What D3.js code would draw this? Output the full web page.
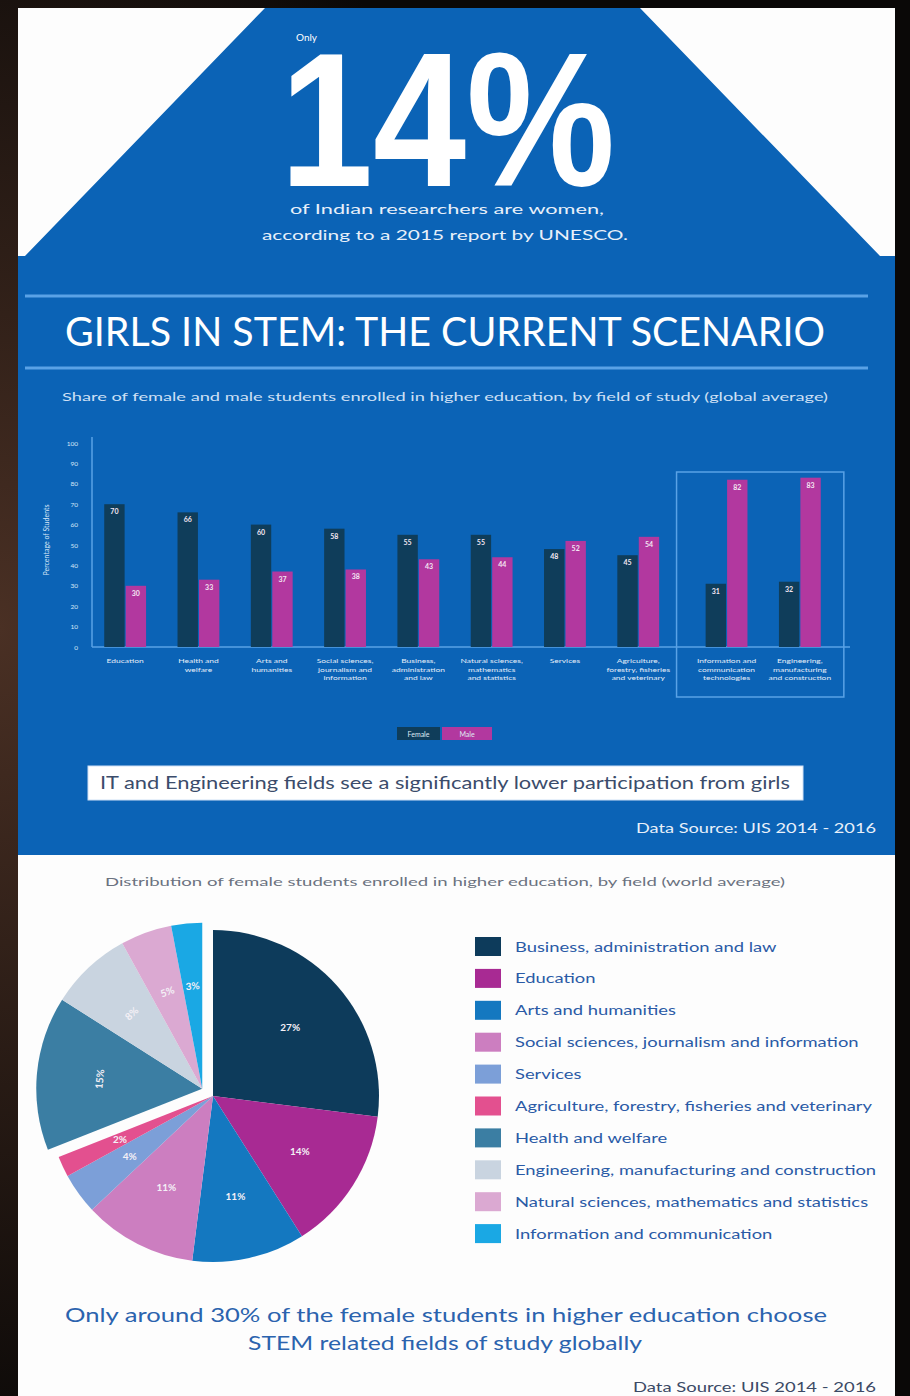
<!DOCTYPE html>
<html>
<head>
<meta charset="utf-8">
<script src="https://d3js.org/d3.v7.min.js"></script>
<style>
  body { margin: 0; background: #0a0807; }
  svg { display: block; font-family: Lato, "Noto Sans", sans-serif; }
</style>
</head>
<body>
<div id="viz"></div>
<script>
// ---- data ----
const fields = ["Education", "Health and welfare", "Arts and humanities",
  "Social sciences, journalism and information", "Business, administration and law",
  "Natural sciences, mathematics and statistics", "Services",
  "Agriculture, forestry, fisheries and veterinary",
  "Information and communication technologies", "Engineering, manufacturing and construction"];
const fieldLines = [["Education"], ["Health and", "welfare"], ["Arts and", "humanities"],
  ["Social sciences,", "journalism and", "information"], ["Business,", "administration", "and law"],
  ["Natural sciences,", "mathematics", "and statistics"], ["Services"],
  ["Agriculture,", "forestry, fisheries", "and veterinary"],
  ["Information and", "communication", "technologies"], ["Engineering,", "manufacturing", "and construction"]];
const femaleShare = [70, 66, 60, 58, 55, 55, 48, 45, 31, 32];
const maleShare = [30, 33, 37, 38, 43, 44, 52, 54, 82, 83];
const highlighted = ["Information and communication technologies", "Engineering, manufacturing and construction"];
const yTicks = [0, 10, 20, 30, 40, 50, 60, 70, 80, 90, 100];

const pieFields = ["Business, administration and law", "Education", "Arts and humanities",
  "Social sciences, journalism and information", "Services",
  "Agriculture, forestry, fisheries and veterinary", "Health and welfare",
  "Engineering, manufacturing and construction", "Natural sciences, mathematics and statistics",
  "Information and communication"];
const pieValues = [27, 14, 11, 11, 4, 2, 15, 8, 5, 3];
const pieColors = ["#0d3b5b", "#a82a93", "#1478c0", "#cc7ec0", "#7c9fd8", "#e3508f",
  "#3b7ea3", "#c9d4e0", "#dba9d2", "#1aa8e4"];
const explodedFields = ["Health and welfare", "Engineering, manufacturing and construction",
  "Natural sciences, mathematics and statistics", "Information and communication"];

const W = 910, H = 1396;
const blue = "#0b63b6";

// the original face is a wide geometric sans: stretch text to its width
function widen(sel, k) {
  sel.each(function() {
    const len = this.getComputedTextLength();
    d3.select(this).attr("textLength", len * k).attr("lengthAdjust", "spacingAndGlyphs");
  });
}

const svg = d3.select("#viz").append("svg")
    .attr("width", W)
    .attr("height", H);

// backdrop (photo edge) + card
const defs = svg.append("defs");
const grad = defs.append("radialGradient").attr("id", "glow")
    .attr("cx", "0").attr("cy", "0.45").attr("r", "0.6");
grad.append("stop").attr("offset", "0").attr("stop-color", "#4a3024");
grad.append("stop").attr("offset", "1").attr("stop-color", "#0a0807");
svg.append("rect").attr("width", W).attr("height", H).attr("fill", "url(#glow)");
svg.append("rect").attr("x", 18).attr("y", 8).attr("width", 877).attr("height", H - 8).attr("fill", "#fdfdfd");

// blue header triangle + band
svg.append("path")
    .attr("d", "M265,8 L640,8 L880,256 L895,256 L895,855 L18,855 L18,256 L25,256 Z")
    .attr("fill", blue);

svg.append("text").attr("x", 296).attr("y", 41)
    .attr("font-size", 10).attr("fill", "#fff").text("Only");
svg.append("text").attr("x", 280).attr("y", 186)
    .attr("font-size", 192).attr("font-weight", 700).attr("fill", "#fff")
    .attr("font-family", "'Liberation Sans', sans-serif")
    .attr("textLength", 335).attr("lengthAdjust", "spacingAndGlyphs")
    .text("14%");
svg.append("text").attr("x", 447).attr("y", 214).attr("text-anchor", "middle")
    .attr("font-size", 14).attr("fill", "#e8f0fa")
    .attr("textLength", 314).attr("lengthAdjust", "spacingAndGlyphs")
    .text("of Indian researchers are women,");
svg.append("text").attr("x", 445).attr("y", 240).attr("text-anchor", "middle")
    .attr("font-size", 14).attr("fill", "#e8f0fa")
    .attr("textLength", 366).attr("lengthAdjust", "spacingAndGlyphs")
    .text("according to a 2015 report by UNESCO.");

// title with rules
[296, 368].forEach(y => {
  svg.append("line").attr("x1", 25).attr("x2", 868).attr("y1", y).attr("y2", y)
      .attr("stroke", "#5aa2e6").attr("stroke-width", 3);
});
svg.append("text").attr("x", 65).attr("y", 346)
    .attr("font-size", 41).attr("fill", "#fff")
    .attr("textLength", 760).attr("lengthAdjust", "spacingAndGlyphs")
    .text("GIRLS IN STEM: THE CURRENT SCENARIO");
svg.append("text").attr("x", 62).attr("y", 401)
    .attr("font-size", 11).attr("fill", "#cfe0f5")
    .attr("textLength", 766).attr("lengthAdjust", "spacingAndGlyphs")
    .text("Share of female and male students enrolled in higher education, by field of study (global average)");

// ---- bar chart ----
const y = d3.scaleLinear().domain([0, 100]).range([647, 443]);
const x0 = d3.scaleBand().domain(fields).range([88.5, 821.5]).paddingInner(0.4).paddingOuter(0.2);
const shift = d => highlighted.includes(d) ? 15 : 0;
const gx = d => x0(d) + shift(d);
const x1 = d3.scaleBand().domain(["Female", "Male"]).range([0, x0.bandwidth()]).padding(0.05);
const barColor = d3.scaleOrdinal().domain(["Female", "Male"]).range(["#0f3d5a", "#b2389f"]);

const axisColor = "#5aa2e6";
const yAxis = svg.append("g")
    .attr("transform", "translate(92,0)")
    .call(d3.axisLeft(y).tickValues(yTicks).tickSize(0).tickPadding(14));
yAxis.select(".domain").attr("stroke", axisColor).attr("stroke-width", 1.5)
    .attr("d", "M0,437V647");
yAxis.selectAll("text").attr("fill", "#d8e6f7").attr("font-size", 6.5).attr("font-family", "Lato");

svg.append("text")
    .attr("transform", "translate(49,540) rotate(-90)")
    .attr("text-anchor", "middle").attr("font-size", 7).attr("fill", "#d8e6f7")
    .text("Percentage of Students");

svg.append("line").attr("x1", 92).attr("x2", 850).attr("y1", 647).attr("y2", 647)
    .attr("stroke", axisColor).attr("stroke-width", 1.5);

// highlight box
const hb0 = gx(highlighted[0]) - 28, hb1 = gx(highlighted[1]) + x0.bandwidth() + 22;
svg.append("rect").attr("x", hb0).attr("y", 472).attr("width", hb1 - hb0).attr("height", 225)
    .attr("fill", "none").attr("stroke", "#5aa2e6").attr("stroke-width", 1.5);

const rows = fields.map((f, i) => ({field: f, lines: fieldLines[i],
  vals: [{key: "Female", v: femaleShare[i]}, {key: "Male", v: maleShare[i]}]}));

const groups = svg.selectAll(".grp").data(rows).enter().append("g")
    .attr("class", "grp")
    .attr("transform", d => "translate(" + gx(d.field) + ",0)");

groups.selectAll("rect").data(d => d.vals).enter().append("rect")
    .attr("x", d => x1(d.key))
    .attr("y", d => y(d.v))
    .attr("width", x1.bandwidth())
    .attr("height", d => y(0) - y(d.v))
    .attr("fill", d => barColor(d.key));

groups.selectAll(".val").data(d => d.vals).enter().append("text")
    .attr("class", "val")
    .attr("x", d => x1(d.key) + x1.bandwidth() / 2)
    .attr("y", d => y(d.v) + 10)
    .attr("text-anchor", "middle").attr("font-size", 7).attr("font-weight", 700)
    .attr("fill", "#f3e6f2")
    .text(d => d.v);

groups.selectAll(".xl").data(d => d.lines).enter().append("text")
    .attr("class", "xl")
    .attr("x", x0.bandwidth() / 2)
    .attr("y", (d, i) => 663 + i * 8.5)
    .attr("text-anchor", "middle").attr("font-size", 6.5).attr("fill", "#e3edf9")
    .text(d => d)
    .call(widen, 1.3);

// legend
const lg = svg.append("g").attr("transform", "translate(397,727)");
[["Female", 0, 43], ["Male", 45, 50]].forEach(([k, lx, lw]) => {
  lg.append("rect").attr("x", lx).attr("width", lw).attr("height", 13).attr("fill", barColor(k));
  lg.append("text").attr("x", lx + lw / 2).attr("y", 9.5).attr("text-anchor", "middle")
      .attr("font-size", 7).attr("fill", "#dfe8f4").text(k);
});

// callout
svg.append("rect").attr("x", 88).attr("y", 766).attr("width", 715).attr("height", 34)
    .attr("fill", "#fff").attr("stroke", "#cfe0f5");
svg.append("text").attr("x", 100).attr("y", 789)
    .attr("font-size", 17).attr("fill", "#3b4c6b")
    .attr("textLength", 690).attr("lengthAdjust", "spacingAndGlyphs")
    .text("IT and Engineering fields see a significantly lower participation from girls");
svg.append("text").attr("x", 876).attr("y", 833).attr("text-anchor", "end")
    .attr("font-size", 13).attr("fill", "#e8f0fa")
    .attr("textLength", 240).attr("lengthAdjust", "spacingAndGlyphs")
    .text("Data Source: UIS 2014 - 2016");

// ---- pie chart ----
svg.append("text").attr("x", 445).attr("y", 886).attr("text-anchor", "middle")
    .attr("font-size", 11).attr("fill", "#6b7280")
    .attr("textLength", 680).attr("lengthAdjust", "spacingAndGlyphs")
    .text("Distribution of female students enrolled in higher education, by field (world average)");

const R = 166;
const pie = d3.pie().sort(null).value(d => d.v);
const arc = d3.arc().innerRadius(0).outerRadius(R);
const labelArc = d3.arc().innerRadius(R * 0.62).outerRadius(R * 0.62);
const pieData = pie(pieFields.map((f, i) => ({field: f, v: pieValues[i], c: pieColors[i]})));

const ex = pieData.filter(d => explodedFields.includes(d.data.field));
const exMid = (ex[0].startAngle + ex[ex.length - 1].endAngle) / 2;
const exOff = 13;

const pg = svg.append("g").attr("transform", "translate(213,1096)");
const slices = pg.selectAll(".slice").data(pieData).enter().append("g")
    .attr("class", "slice")
    .attr("transform", d => explodedFields.includes(d.data.field)
        ? "translate(" + (Math.sin(exMid) * exOff) + "," + (-Math.cos(exMid) * exOff) + ")" : null);

slices.append("path")
    .attr("d", arc)
    .attr("fill", d => d.data.c);

slices.append("text")
    .attr("transform", d => {
      const c = labelArc.centroid(d);
      const mid = (d.startAngle + d.endAngle) / 2 * 180 / Math.PI;
      const rot = explodedFields.includes(d.data.field) ? mid - 360 : 0;
      return "translate(" + c[0] + "," + c[1] + ") rotate(" + rot + ")";
    })
    .attr("dy", "0.35em")
    .attr("text-anchor", "middle").attr("font-size", 10).attr("font-weight", 700)
    .attr("fill", "#f4f0f6")
    .text(d => d.data.v + "%");

// pie legend
const leg = svg.append("g").attr("transform", "translate(475,937)");
const li = leg.selectAll(".li").data(pieFields).enter().append("g")
    .attr("class", "li")
    .attr("transform", (d, i) => "translate(0," + i * 31.9 + ")");
li.append("rect").attr("width", 26).attr("height", 19).attr("fill", (d, i) => pieColors[i]);
li.append("text").attr("x", 40).attr("y", 14.5)
    .attr("font-size", 13.5).attr("fill", "#2a5aa6")
    .text(d => d)
    .call(widen, 1.36);

// footer
svg.append("text").attr("x", 446).attr("y", 1322).attr("text-anchor", "middle")
    .attr("font-size", 20).attr("fill", "#2b63ae")
    .attr("textLength", 762).attr("lengthAdjust", "spacingAndGlyphs")
    .text("Only around 30% of the female students in higher education choose");
svg.append("text").attr("x", 445).attr("y", 1350).attr("text-anchor", "middle")
    .attr("font-size", 20).attr("fill", "#2b63ae")
    .attr("textLength", 394).attr("lengthAdjust", "spacingAndGlyphs")
    .text("STEM related fields of study globally");
svg.append("text").attr("x", 876).attr("y", 1392).attr("text-anchor", "end")
    .attr("font-size", 12.5).attr("fill", "#3b4a66")
    .attr("textLength", 243).attr("lengthAdjust", "spacingAndGlyphs")
    .text("Data Source: UIS 2014 - 2016");
</script>
</body>
</html>
